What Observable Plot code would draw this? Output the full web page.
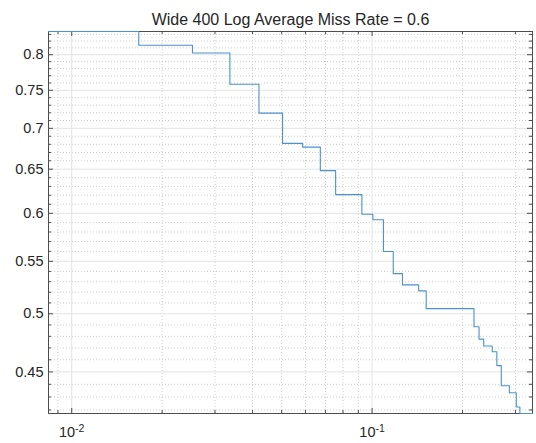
<!DOCTYPE html>
<html>
<head>
<meta charset="utf-8">
<script src="https://cdn.jsdelivr.net/npm/d3@7"></script>
<script src="https://cdn.jsdelivr.net/npm/@observablehq/plot@0.6"></script>
<style>
  html, body { margin: 0; padding: 0; background: #fff; }
  #chart svg { display: block; }
</style>
</head>
<body>
<div id="chart"></div>
<script>
// ---- data ----
const titleText = "Wide 400 Log Average Miss Rate = 0.6";
const fppi = [0.00837, 0.01672, 0.02523, 0.03362, 0.04202, 0.05035, 0.05871, 0.06724, 0.07562, 0.09247,
              0.1006, 0.1091, 0.1176, 0.1262, 0.1429, 0.1514, 0.2184, 0.2270, 0.2353, 0.2512,
              0.2602, 0.2692, 0.2864, 0.3020, 0.3105, 0.342];
const missRate = [0.8344, 0.8138, 0.8025, 0.7582, 0.7196, 0.6811, 0.6765, 0.6483, 0.6207, 0.5989,
                  0.5931, 0.5598, 0.5378, 0.5270, 0.5213, 0.5047, 0.4884, 0.4776, 0.4717, 0.4667,
                  0.4552, 0.4388, 0.4333, 0.4222, 0.4173, 0.4173];
const xDomain = [0.00837, 0.342];
const yDomain = [0.4173, 0.8344];
const xMajorTicks = [0.01, 0.1];
const xTickBase = ["10", "10"];
const xTickExp = ["-2", "-1"];
const xMinorTicks = [0.009, 0.02, 0.03, 0.04, 0.05, 0.06, 0.07, 0.08, 0.09, 0.2, 0.3];
const yMajorTicks = [0.45, 0.5, 0.55, 0.6, 0.65, 0.7, 0.75, 0.8];
const yTickLabels = ["0.45", "0.5", "0.55", "0.6", "0.65", "0.7", "0.75", "0.8"];
const yMinorTicks = [0.42, 0.43, 0.44, 0.46, 0.47, 0.48, 0.49, 0.51, 0.52, 0.53, 0.54,
                     0.56, 0.57, 0.58, 0.59, 0.61, 0.62, 0.63, 0.64, 0.66, 0.67, 0.68, 0.69,
                     0.71, 0.72, 0.73, 0.74, 0.76, 0.77, 0.78, 0.79, 0.81, 0.82, 0.83];

const points = fppi.map((x, i) => ({fppi: x, missRate: missRate[i]}));

// ---- layout ----
const W = 536, H = 443;
const mL = 48, mR = 4, mT = 31, mB = 30;
const fW = W - mL - mR, fH = H - mT - mB;
const axisColor = "#4d4d4d";
const tickMajor = 5, tickMinor = 3;
const minorGrid = {stroke: "#cdcdcd", strokeDasharray: "1,2"};
const majorGrid = {stroke: "#e3e3e3"};

const chart = Plot.plot({
  width: W, height: H,
  marginLeft: mL, marginRight: mR, marginTop: mT, marginBottom: mB,
  style: {fontFamily: "'Liberation Sans', Arial, sans-serif", color: "#262626", background: "#fff"},
  x: {type: "log", domain: xDomain, label: null},
  y: {type: "log", domain: yDomain, label: null},
  marks: [
    Plot.ruleX(xMinorTicks, minorGrid),
    Plot.ruleY(yMinorTicks, minorGrid),
    Plot.ruleX(xMajorTicks, majorGrid),
    Plot.ruleY(yMajorTicks, majorGrid),
    // inward ticks on all four sides
    Plot.ruleX(xMajorTicks, {insetTop: fH - tickMajor, stroke: axisColor}),
    Plot.ruleX(xMajorTicks, {insetBottom: fH - tickMajor, stroke: axisColor}),
    Plot.ruleX(xMinorTicks, {insetTop: fH - tickMinor, stroke: axisColor}),
    Plot.ruleX(xMinorTicks, {insetBottom: fH - tickMinor, stroke: axisColor}),
    Plot.ruleY(yMajorTicks, {insetRight: fW - tickMajor, stroke: axisColor}),
    Plot.ruleY(yMajorTicks, {insetLeft: fW - tickMajor, stroke: axisColor}),
    Plot.ruleY(yMinorTicks, {insetRight: fW - tickMinor, stroke: axisColor}),
    Plot.ruleY(yMinorTicks, {insetLeft: fW - tickMinor, stroke: axisColor}),
    Plot.frame({stroke: axisColor}),
    Plot.line(points, {x: "fppi", y: "missRate", curve: "step-after", stroke: "#4a92cc",
                       strokeWidth: 1.1}),
    Plot.axisX({ticks: xMajorTicks, tickSize: 0, tickPadding: 13, fontSize: 14.5, label: null,
                tickFormat: d => xTickBase[xMajorTicks.indexOf(d)]}),
    Plot.axisY({ticks: yMajorTicks, tickSize: 0, tickPadding: 5, fontSize: 14.5, label: null,
                tickFormat: d => yTickLabels[yMajorTicks.indexOf(d)]}),
    Plot.text([titleText], {text: d => d, frameAnchor: "top", dy: -12, lineAnchor: "middle",
                            fontSize: 16, fill: "#262626"})
  ]
});

// superscript exponents on the x tick labels
d3.select(chart).selectAll('g[aria-label="x-axis tick label"] text').each(function(d, i) {
  const t = d3.select(this);
  t.text(null);
  t.append("tspan").text(xTickBase[i]);
  t.append("tspan").attr("dy", "-0.45em").attr("font-size", "10.5px").text(xTickExp[i]);
});

document.getElementById("chart").appendChild(chart);
</script>
</body>
</html>
